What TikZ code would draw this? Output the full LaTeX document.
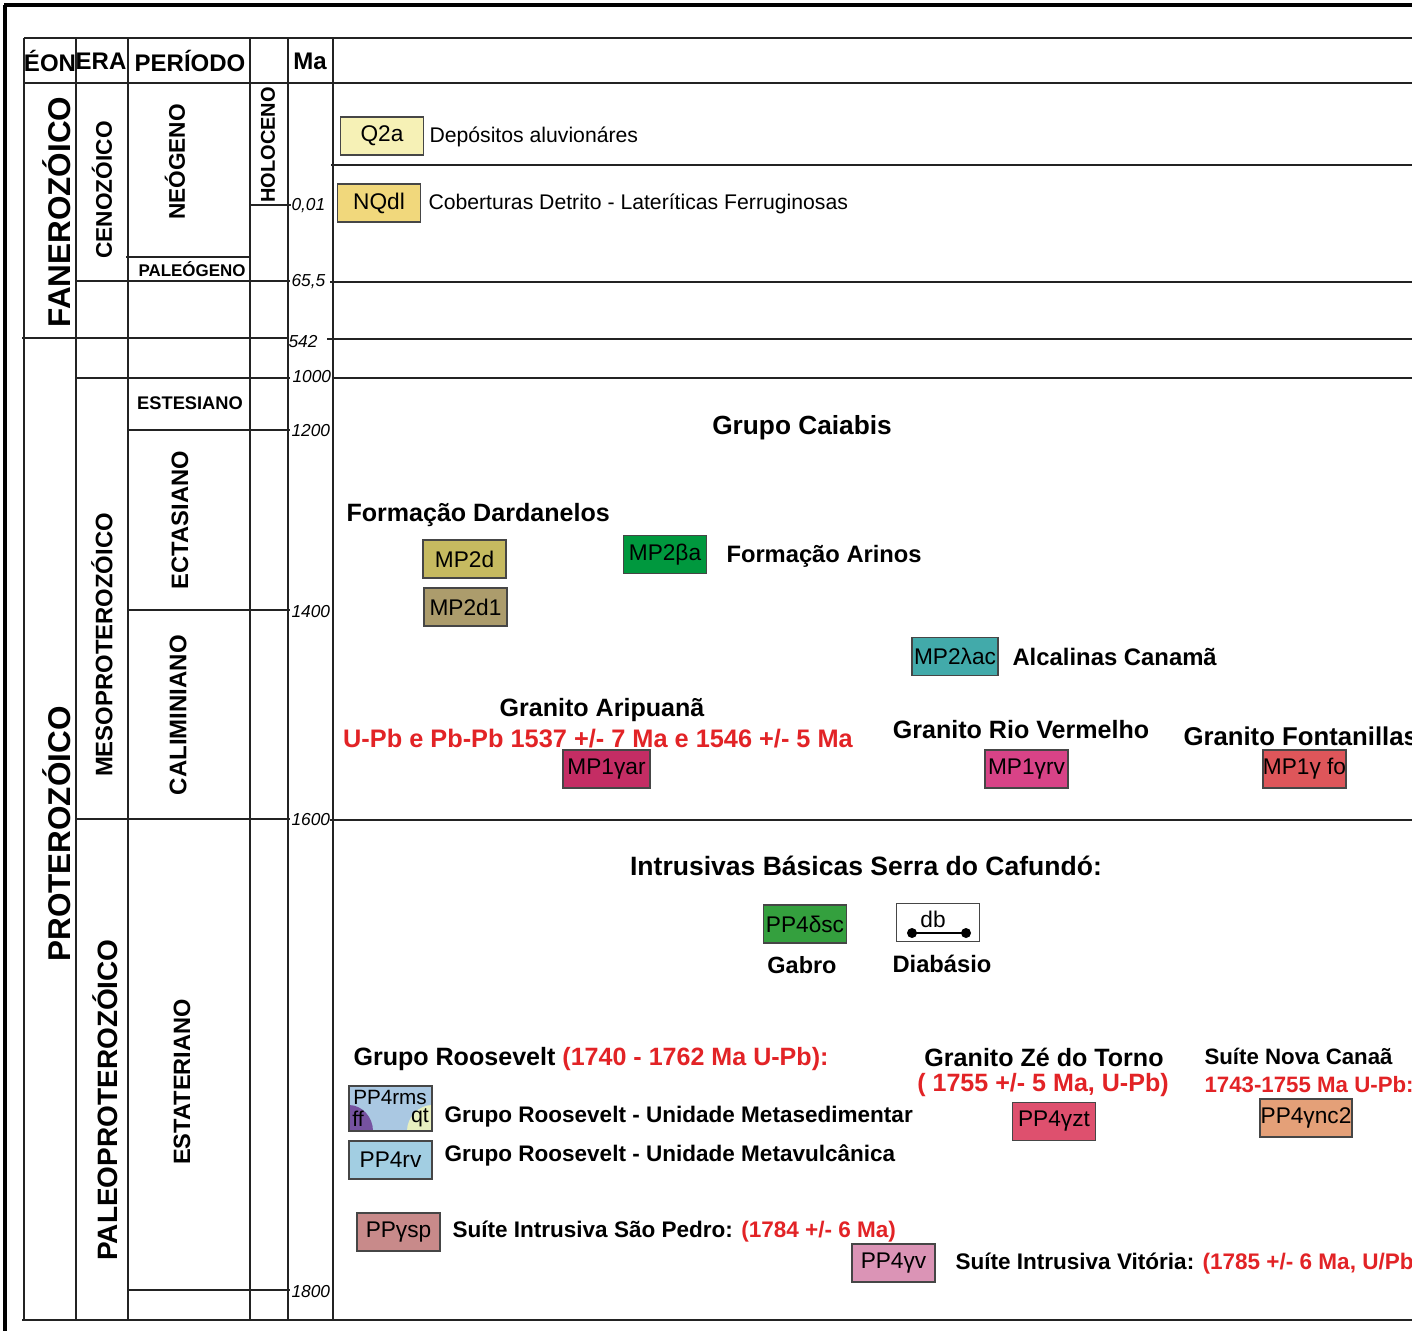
\documentclass[tikz,border=0pt]{standalone}
\usepackage{fontspec}
\setmainfont{Liberation Sans}
\definecolor{agered}{RGB}{226,35,38}
\newcommand{\fsz}[1]{\fontsize{#1}{#1}\selectfont}

\tikzset{every picture/.style={line width=0.75pt}}
\tikzset{
  grid/.style={color={rgb, 255:red, 35; green, 35; blue, 35}, line width=0.9pt},
  swatch/.style={draw={rgb, 255:red, 70; green, 70; blue, 70}, line width=1.1pt,
    minimum width=62.5pt, minimum height=28.5pt, inner sep=0pt, font=\fsz{17}},
  hdr/.style={font=\bfseries\fsz{18}, inner sep=0pt},
  vlab/.style={rotate=90, inner sep=0pt},
  malab/.style={font=\itshape\fsz{13}, anchor=west, inner sep=0pt},
  desc/.style={font=\fsz{15.9}, anchor=west, inner sep=0pt},
  ttl/.style={font=\bfseries\fsz{18.8}, inner sep=0pt},
  cnd/.style={font=\bfseries\fsz{16.9}, anchor=west, inner sep=0pt},
}

\begin{document}
\begin{tikzpicture}[x=0.75pt,y=0.75pt,yscale=-1,xscale=1]
	\useasboundingbox (0,0) rectangle (1412,1331);

	%Frame
	\draw [line width=2.3pt] (4,5) -- (1412,5) ;
	\draw [line width=2.3pt] (5,5) -- (5,1331) ;

	%Table columns
	\foreach \cx in {24,76,128,250,288,333} {
		\draw [grid] (\cx,38) -- (\cx,1320) ;
	}
	%Table rows
	\draw [grid] (24,38) -- (1412,38) ;
	\draw [grid] (24,83) -- (1412,83) ;
	\draw [grid] (331,165) -- (1412,165) ;
	\draw [grid] (250,205) -- (291,205) ;
	\draw [grid] (126,257) -- (250,257) ;
	\draw [grid] (76,281) -- (290,281) ;
	\draw [grid] (330,282) -- (1412,282) ;
	\draw [grid] (22,338) -- (287,338) ;
	\draw [grid] (327,339) -- (1412,339) ;
	\draw [grid] (76,378) -- (290,378) ;
	\draw [grid] (333,378) -- (1412,378) ;
	\draw [grid] (128,430) -- (290,430) ;
	\draw [grid] (128,610) -- (290,610) ;
	\draw [grid] (76,819) -- (290,819) ;
	\draw [grid] (330,820) -- (1412,820) ;
	\draw [grid] (128,1290) -- (290,1290) ;
	\draw [grid] (22,1320) -- (1412,1320) ;

	%Header
	\node [hdr] (heon) at (50,61) {ÉON};
	\node [hdr] (hera) at (101,61) {ERA};
	\node [hdr] (hper) at (190,61) {PERÍODO};
	\node [hdr] (hma) at (310,61) {Ma};

	%Eons, eras, periods
	\node [vlab, font=\bfseries\fsz{23.6}] (fanero) at (57,212) {FANEROZÓICO};
	\node [vlab, font=\bfseries\fsz{23.6}] (protero) at (57,834) {PROTEROZÓICO};
	\node [vlab, font=\bfseries\fsz{17}] (cenozoico) at (102,190) {CENOZÓICO};
	\node [vlab, font=\bfseries\fsz{17.9}] (mesoprot) at (102,645) {MESOPROTEROZÓICO};
	\node [vlab, font=\bfseries\fsz{21}] (paleoprot) at (105,1100) {PALEOPROTEROZÓICO};
	\node [vlab, font=\bfseries\fsz{17}] (neogeno) at (175,162) {NEÓGENO};
	\node [vlab, font=\bfseries\fsz{17.8}] (ectasiano) at (180,520) {ECTASIANO};
	\node [vlab, font=\bfseries\fsz{18}] (caliminiano) at (178,715) {CALIMINIANO};
	\node [vlab, font=\bfseries\fsz{17.7}] (estateriano) at (182,1082) {ESTATERIANO};
	\node [vlab, font=\bfseries\fsz{15}] (holoceno) at (268,145) {HOLOCENO};
	\node [font=\bfseries\fsz{12.7}, inner sep=0pt] (paleogeno) at (192,269) {PALEÓGENO};
	\node [font=\bfseries\fsz{13.7}, inner sep=0pt] (estesiano) at (190,403) {ESTESIANO};

	%Ages
	\node [malab] (ma1) at (291,206) {0,01};
	\node [malab] (ma2) at (291,282) {65,5};
	\node [malab] (ma3) at (288,342) {542};
	\node [malab] (ma4) at (292,377) {1000};
	\node [malab] (ma5) at (291,431) {1200};
	\node [malab] (ma6) at (291,612) {1400};
	\node [malab] (ma7) at (291,820) {1600};
	\node [malab] (ma8) at (291,1292) {1800};

	%Cenozoic covers
	\node [swatch, fill={rgb, 255:red, 246; green, 241; blue, 182 }] (q2a) at (382,136) {Q2a};
	\node [desc] (q2adesc) at (429,137) {Depósitos aluvionáres};
	\node [swatch, fill={rgb, 255:red, 241; green, 216; blue, 124 }] (nqdl) at (379,203) {NQdl};
	\node [desc] (nqdldesc) at (428,204) {Coberturas Detrito - Lateríticas Ferruginosas};

	%Mesoproterozoic units
	\node [ttl, font=\bfseries\fsz{19.7}] (caiabis) at (802,428) {Grupo Caiabis};
	\node [ttl, anchor=west] (dardanelos) at (346,515) {Formação Dardanelos};
	\node [swatch, fill={rgb, 255:red, 198; green, 186; blue, 96 }] (mp2d) at (464.5,559) {MP2d};
	\node [swatch, fill={rgb, 255:red, 172; green, 156; blue, 108 }] (mp2d1) at (465.5,607) {MP2d1};
	\node [swatch, fill={rgb, 255:red, 0; green, 152; blue, 62 }] (mp2ba) at (665,554.5) {MP2βa};
	\node [ttl, font=\bfseries\fsz{17.8}, anchor=west] (arinos) at (726,556) {Formação Arinos};
	\node [swatch, minimum width=64.5pt, fill={rgb, 255:red, 66; green, 170; blue, 170 }] (mp2lac) at (955,656.5) {MP2λac};
	\node [ttl, font=\bfseries\fsz{17.9}, anchor=west] (canama) at (1012,657) {Alcalinas Canamã};

	\node [ttl] (aripuana) at (602,710) {Granito Aripuanã};
	\node [ttl, font=\bfseries\fsz{19}, text=agered] (aripage) at (598,739) {U-Pb e Pb-Pb 1537 +/- 7 Ma e 1546 +/- 5 Ma};
	\node [swatch, minimum width=65pt, fill={rgb, 255:red, 196; green, 45; blue, 100 }] (mp1yar) at (606.5,769) {MP1γar};
	\node [ttl] (riovermelho) at (1021,730) {Granito Rio Vermelho};
	\node [swatch, fill={rgb, 255:red, 216; green, 67; blue, 135 }] (mp1yrv) at (1026.5,769) {MP1γrv};
	\node [ttl, font=\bfseries\fsz{19.3}, anchor=west] (fontanillas) at (1183,736) {Granito Fontanillas};
	\node [swatch, fill={rgb, 255:red, 222; green, 86; blue, 90 }] (mp1yfo) at (1304.5,769) {MP1γ fo};

	%Paleoproterozoic units
	\node [ttl, font=\bfseries\fsz{19.9}] (cafundo) at (866,866) {Intrusivas Básicas Serra do Cafundó:};
	\node [swatch, fill={rgb, 255:red, 52; green, 160; blue, 62 }] (pp4dsc) at (805,924) {PP4δsc};
	\node [ttl, font=\bfseries\fsz{17.6}] (gabro) at (802,965) {Gabro};
	\node [swatch, fill=white] (db) at (938,922.5) {};
	\node [font=\fsz{17}, inner sep=0pt] (dbtxt) at (933,919) {db};
	\coordinate (dbL) at (912,933);
	\coordinate (dbR) at (966,933);
	\draw [line width=1pt] (dbL) -- (dbR) ;
	\fill (dbL) circle (5) ;
	\fill (dbR) circle (5) ;
	\node [ttl, font=\bfseries\fsz{17.8}] (diabasio) at (942,964) {Diabásio};

	\node [ttl, anchor=west] (roosevelt) at (353,1059) {Grupo Roosevelt \textcolor{agered}{(1740 - 1762 Ma U-Pb):}};
	%Shape: Rectangle with corner patches
	\draw [draw opacity=0][fill={rgb, 255:red, 170; green, 200; blue, 226 }] (349,1086) -- (432,1086) -- (432,1131) -- (349,1131) -- cycle ;
	\draw [draw opacity=0][fill={rgb, 255:red, 118; green, 82; blue, 160 }] (349,1105) .. controls (362,1105) and (373,1117) .. (373,1131) -- (349,1131) -- cycle ;
	\draw [draw opacity=0][fill={rgb, 255:red, 232; green, 240; blue, 192 }] (432,1105) .. controls (419,1105) and (407,1117) .. (407,1131) -- (432,1131) -- cycle ;
	\draw [color={rgb, 255:red, 70; green, 70; blue, 70 }, line width=1.1pt] (349,1086) -- (432,1086) -- (432,1131) -- (349,1131) -- cycle ;
	\node [font=\fsz{15.5}, inner sep=0pt] (pp4rms) at (390,1097) {PP4rms};
	\node [font=\fsz{16}, inner sep=0pt] (ff) at (358,1119) {ff};
	\node [font=\fsz{16}, inner sep=0pt] (qt) at (420,1118) {qt};
	\node [cnd] (metased) at (444,1117) {Grupo Roosevelt - Unidade Metasedimentar};
	\node [swatch, fill={rgb, 255:red, 162; green, 206; blue, 226 }] (pp4rv) at (390.5,1160) {PP4rv};
	\node [cnd] (metavulc) at (444,1155) {Grupo Roosevelt - Unidade Metavulcânica};
	\node [swatch, fill={rgb, 255:red, 200; green, 138; blue, 138 }] (ppysp) at (398.5,1232) {PPγsp};
	\node [cnd] (saopedro) at (452,1232) {Suíte Intrusiva São Pedro: \textcolor{agered}{(1784 +/- 6 Ma)}};
	\node [swatch, fill={rgb, 255:red, 219; green, 148; blue, 182 }] (pp4yv) at (893.5,1263) {PP4γv};
	\node [cnd] (vitoria) at (955,1264) {Suíte Intrusiva Vitória: \textcolor{agered}{(1785 +/- 6 Ma, U/Pb)}};

	\node [ttl] (zetorno) at (1044,1057) {Granito Zé do Torno};
	\node [ttl, text=agered] (zeage) at (1043,1085) {( 1755 +/- 5 Ma, U-Pb)};
	\node [swatch, fill={rgb, 255:red, 222; green, 80; blue, 110 }] (pp4yzt) at (1054,1121.5) {PP4γzt};
	\node [cnd, font=\bfseries\fsz{16.7}] (novacanaa) at (1204,1056) {Suíte Nova Canaã};
	\node [cnd, font=\bfseries\fsz{16.7}, text=agered] (ncage) at (1204,1085) {1743-1755 Ma U-Pb:};
	\node [swatch, minimum width=69pt, fill={rgb, 255:red, 228; green, 160; blue, 120 }] (pp4ync2) at (1306,1118) {PP4γnc2};

\end{tikzpicture}
\end{document}
